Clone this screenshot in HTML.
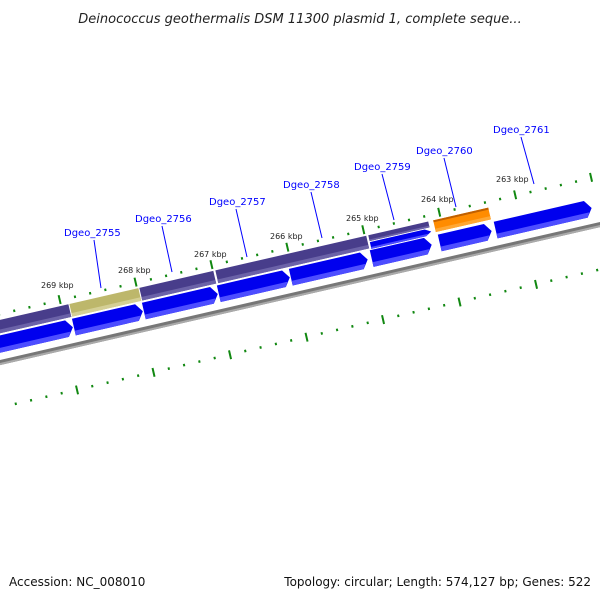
<!DOCTYPE html>
<html><head><meta charset="utf-8"><style>
html,body{margin:0;padding:0;background:#fff;}
svg{display:block;}
</style></head><body>
<svg id="s" width="600" height="600" viewBox="0 0 600 600" xmlns="http://www.w3.org/2000/svg" font-family="'DejaVu Sans','Liberation Sans',sans-serif">
<text x="300" y="23" text-anchor="middle" font-size="13" font-style="italic" fill="#222">Deinococcus geothermalis DSM 11300 plasmid 1, complete seque...</text>
<g id="trk" transform="translate(0,362) rotate(-12.95)">
  <!-- grey backbone -->
  <rect x="-20" y="-2" width="660" height="5" fill="#777"/>
  <rect x="-20" y="1" width="660" height="2" fill="#aaa"/>
  <!-- lower blue row -->
  <g id="lower"></g>
  <!-- upper row -->
  <g id="upper"></g>
  <g id="ticks"></g>
</g>
<g font-size="8" fill="#222">
<text x="41" y="288">269 kbp</text>
<text x="118" y="273">268 kbp</text>
<text x="194" y="257">267 kbp</text>
<text x="270" y="239">266 kbp</text>
<text x="346" y="221">265 kbp</text>
<text x="421" y="202">264 kbp</text>
<text x="496" y="182">263 kbp</text>
</g>
<g stroke="#0000ff" stroke-width="1">
<line x1="94" y1="240" x2="101" y2="288"/>
<line x1="162" y1="226" x2="172" y2="272"/>
<line x1="236" y1="209" x2="247" y2="257"/>
<line x1="311" y1="192" x2="322" y2="238"/>
<line x1="382" y1="174" x2="394" y2="220"/>
<line x1="444" y1="158" x2="456" y2="207"/>
<line x1="521" y1="137" x2="534" y2="184"/>
</g>
<g font-size="10" fill="#0000ff">
<text x="64" y="236">Dgeo_2755</text>
<text x="135" y="222">Dgeo_2756</text>
<text x="209" y="205">Dgeo_2757</text>
<text x="283" y="188">Dgeo_2758</text>
<text x="354" y="170">Dgeo_2759</text>
<text x="416" y="154">Dgeo_2760</text>
<text x="493" y="133">Dgeo_2761</text>
</g>
<text x="9" y="586" font-size="12" fill="#111">Accession: NC_008010</text>
<text x="591" y="586" font-size="12" fill="#111" text-anchor="end">Topology: circular; Length: 574,127 bp; Genes: 522</text>
</svg>
<script>
var NS="http://www.w3.org/2000/svg";
function el(p,t,a){var e=document.createElementNS(NS,t);for(var k in a)e.setAttribute(k,a[k]);p.appendChild(e);return e;}
var low=document.getElementById('lower'),up=document.getElementById('upper'),tk=document.getElementById('ticks');
function gene(p,a,b,v1,v2,c,lc,arrow){
  var tip=arrow?6:0;
  el(p,'polygon',{points:a+','+v1+' '+(b-tip)+','+v1+' '+b+','+((v1+v2)/2)+' '+(b-tip)+','+v2+' '+a+','+v2,fill:c});
  var h=(v2-v1)*0.28;
  el(p,'polygon',{points:a+','+(v2-h)+' '+(b-tip*h/((v2-v1)/2))+','+(v2-h)+' '+(b-tip)+','+v2+' '+a+','+v2,fill:lc});
}
var L=[[-17,78.8],[79.8,150.6],[151.6,227.5],[228.5,301.4],[302.4,381.3],[385.4,447],[455.2,508.5],[512.6,611.1]];
L.forEach(function(g){gene(low,g[0],g[1],-26,-9,'#0000ee','#4d4dff',true);});
gene(up,-13,79.6,-41,-28,'#483d8b','#6b62a8',false);
gene(up,80.6,151.4,-41,-28,'#bdb76b','#d4cf95',false);
gene(up,152.4,228.3,-41,-28,'#483d8b','#6b62a8',false);
gene(up,230.4,385.2,-41,-28,'#483d8b','#6b62a8',false);
gene(up,387.3,448.8,-41,-35,'#483d8b','#6b62a8',false);
gene(up,387.3,449.5,-34,-27,'#0000ee','#4d4dff',true);
gene(up,453.9,510.4,-41,-29,'#ff8c00','#ffa733',false);
el(up,'rect',{x:453.9,y:-41,width:56.5,height:2,fill:'#c06000'});
// upper ticks
var step=77.9/5, start=72.1-4*step;
for(var i=0;i<50;i++){var u=start+i*step; if(u>640)break;
  if(i%5==4) el(tk,'rect',{x:u-1,y:-52,width:2,height:9,fill:'#118811'});
  else el(tk,'rect',{x:u-1,y:-48,width:2,height:2.5,fill:'#118811'});}
var st2=78.5/5, s2=68.8-4*st2;
for(var i=0;i<50;i++){var u=s2+i*st2; if(u>610)break;
  if(i%5==4) el(tk,'rect',{x:u-1,y:40,width:2,height:9,fill:'#118811'});
  else el(tk,'rect',{x:u-1,y:43,width:2,height:2.5,fill:'#118811'});}
</script>
</body></html>
